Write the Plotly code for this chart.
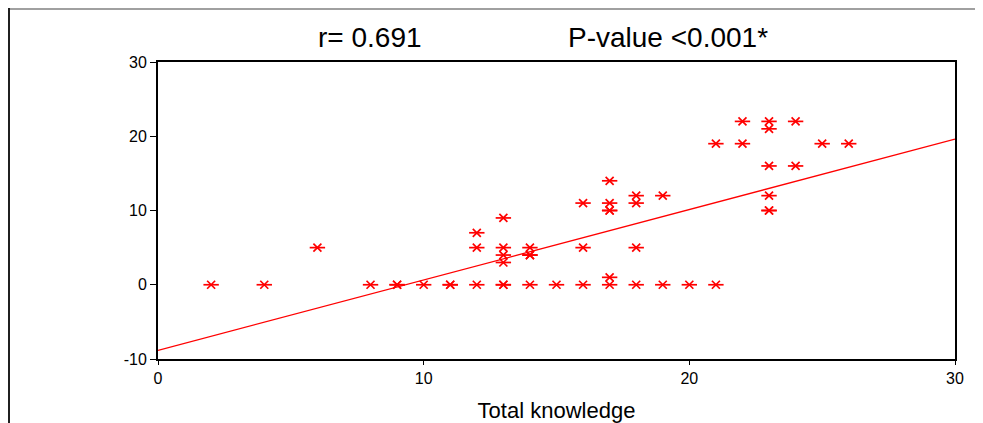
import plotly.graph_objects as go

# Data
knowledge = [2, 4, 6, 8, 9, 9, 10, 11, 11, 12, 12, 12,
             13, 13, 13, 13, 13, 13, 14, 14, 14, 14,
             15, 16, 16, 16, 17, 17, 17, 17, 17, 17,
             18, 18, 18, 18, 19, 19, 20, 21, 21,
             22, 22, 23, 23, 23, 23, 23, 23, 24, 24, 25, 26]
score = [0, 0, 5, 0, 0, 0, 0, 0, 0, 0, 5, 7,
         0, 3, 4, 5, 9, 0, 0, 4, 5, 4,
         0, 0, 5, 11, 0, 1, 10, 11, 14, 10,
         0, 5, 11, 12, 0, 12, 0, 0, 19,
         19, 22, 10, 12, 16, 21, 22, 10, 16, 22, 19, 19]

fit_intercept = -8.83
fit_slope = 0.948
fit_x = [0, 30]
fit_y = [fit_intercept + fit_slope * v for v in fit_x]

x_ticks = [0, 10, 20, 30]
x_tick_labels = ["0", "10", "20", "30"]
y_ticks = [-10, 0, 10, 20, 30]
y_tick_labels = ["-10", "0", "10", "20", "30"]
title_left = "r= 0.691"
title_right = "P-value <0.001*"
x_title = "Total knowledge"

RED = "#ff0000"
FONT = "Liberation Sans, Arial, sans-serif"

# plot area in page pixels: x 158..955, y 62..359 (page has 8px body margin)
PX0, PX1, PY0, PY1 = 158, 955, 62, 359
PW, PH = PX1 - PX0, PY1 - PY0


def px(xp):
    return (xp - PX0) / PW


def py(yp):
    return (PY1 - yp) / PH


fig = go.Figure()
fig.add_trace(go.Scatter(
    x=fit_x, y=fit_y, mode="lines",
    line=dict(color=RED, width=1.3), hoverinfo="skip", showlegend=False))
fig.add_trace(go.Scatter(
    x=knowledge, y=score, mode="markers",
    marker=dict(symbol="x-thin-open", size=8, color=RED,
                line=dict(color=RED, width=1.7)),
    showlegend=False))
fig.add_trace(go.Scatter(
    x=knowledge, y=score, mode="markers",
    marker=dict(symbol="line-ew-open", size=11, color=RED,
                line=dict(color=RED, width=1.7)),
    hoverinfo="skip", showlegend=False))

axis_common = dict(
    showline=True, linecolor="black", linewidth=2, mirror=True,
    showgrid=False, zeroline=False, automargin=False,
    ticks="outside", tickcolor="black", tickwidth=1,
    tickfont=dict(family=FONT, size=16, color="black"),
)

fig.update_layout(
    width=975, height=415,
    margin=dict(l=150, r=975 - 150 - PW, t=54, b=415 - 54 - PH),
    paper_bgcolor="white", plot_bgcolor="white",
    font=dict(family=FONT, color="black"),
    xaxis=dict(range=[0, 30], tickvals=x_ticks, ticktext=x_tick_labels, ticklen=4,
               title=dict(text=x_title, font=dict(family=FONT, size=22), standoff=20),
               **axis_common),
    yaxis=dict(range=[-10, 30], tickvals=y_ticks, ticktext=y_tick_labels, ticklen=6,
               **axis_common),
    annotations=[
        dict(text=title_left, xref="paper", yref="paper",
             x=px(370), y=py(37),
             xanchor="center", yanchor="middle", showarrow=False,
             font=dict(family=FONT, size=28, color="black")),
        dict(text=title_right, xref="paper", yref="paper",
             x=px(668), y=py(37),
             xanchor="center", yanchor="middle", showarrow=False,
             font=dict(family=FONT, size=28, color="black")),
    ],
    shapes=[
        dict(type="line", xref="paper", yref="paper",
             x0=px(8), x1=px(1000), y0=py(9), y1=py(9),
             line=dict(color="#a0a0a0", width=2)),
        dict(type="line", xref="paper", yref="paper",
             x0=px(9), x1=px(9), y0=py(8), y1=py(440),
             line=dict(color="#202020", width=2)),
    ],
)

fig.write_html("out.html")
